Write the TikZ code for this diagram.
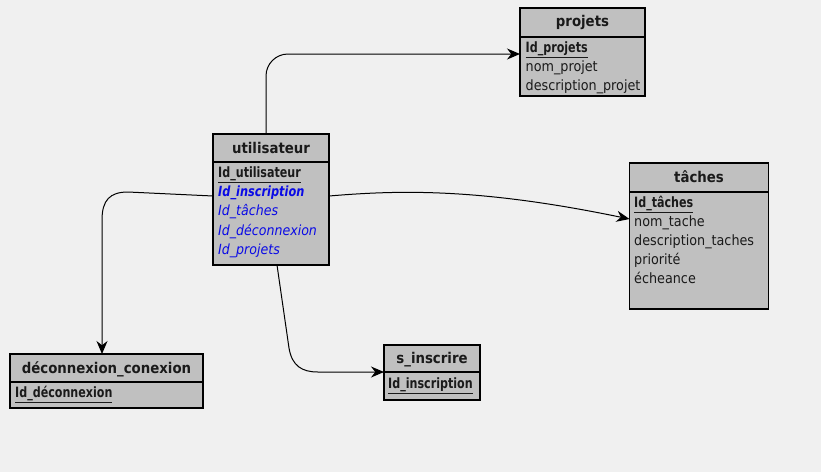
\documentclass[tikz,border=0pt]{standalone}
\usepackage{fontspec}
\setmainfont{DejaVu Sans Condensed}
\usetikzlibrary{arrows.meta,calc}
\definecolor{bg}{HTML}{F0F0F0}
\definecolor{boxfill}{HTML}{C0C0C0}
\definecolor{fkblue}{HTML}{0A0AE6}
\definecolor{txt}{HTML}{1A1A1A}
\newcommand{\pkey}[1]{\scalebox{0.87}[1]{\underline{#1}}}
\begin{document}
\begin{tikzpicture}[x=1pt,y=-1pt,
  tbl/.style={draw=black, fill=boxfill, line width=1.2pt, anchor=north west, inner sep=0pt, outer sep=0pt},
  sep/.style={line width=1.2pt},
  hdr/.style={font=\bfseries\fontsize{14.8}{17}\selectfont, anchor=center, inner sep=0pt, text=txt},
  fld/.style={font=\fontsize{14.2}{15}\selectfont, anchor=base west, inner sep=0pt, text=txt},
  pk/.style={fld, font=\bfseries\fontsize{14.2}{15}\selectfont},
  fk/.style={fld, text=fkblue, font=\itshape\fontsize{14}{15}\selectfont},
  conn/.style={line width=1pt, -{Stealth[length=13pt,width=11pt]}}
]
\fill[bg] (0,0) rectangle (821,472);
\useasboundingbox (0,0) rectangle (821,472);

% projets
\node[tbl, minimum width=125pt, minimum height=88pt] (proj) at (520,8) {};
\draw[sep] (520,37) -- (645,37);
\node[hdr] (projh) at (582.5,22) {projets};
\node[pk] (p1) at (525.5,52) {\pkey{Id\_projets}};
\node[fld] (p2) at (525.5,71.5) {nom\_projet};
\node[fld] (p3) at (525.5,90.5) {description\_projet};

% utilisateur
\node[tbl, minimum width=116pt, minimum height=131pt] (util) at (213,134) {};
\draw[sep] (213,162) -- (329,162);
\node[hdr] (utilh) at (271,148) {utilisateur};
\node[pk] (u1) at (218,177.5) {\pkey{Id\_utilisateur}};
\node[fk, font=\bfseries\itshape\fontsize{14}{15}\selectfont] (u2) at (218,196.5) {\scalebox{0.9}[1]{Id\_inscription}};
\node[fk] (u3) at (218,215.5) {Id\_tâches};
\node[fk] (u4) at (218,235) {Id\_déconnexion};
\node[fk] (u5) at (218,254) {Id\_projets};

% taches
\node[tbl, minimum width=139pt, minimum height=146pt] (tach) at (629.5,163) {};
\draw[sep] (629.5,192) -- (768.5,192);
\node[hdr] (tachh) at (699,176.5) {tâches};
\node[pk] (t1) at (634,207) {\pkey{Id\_tâches}};
\node[fld] (t2) at (634,226) {nom\_tache};
\node[fld] (t3) at (634,245) {description\_taches};
\node[fld] (t4) at (634,264) {priorité};
\node[fld] (t5) at (634,283) {écheance};

% deconnexion_conexion
\node[tbl, minimum width=193pt, minimum height=54pt] (deco) at (10,354) {};
\draw[sep] (10,382) -- (203,382);
\node[hdr] (decoh) at (106.5,369) {déconnexion\_conexion};
\node[pk] (d1) at (15,397) {\pkey{Id\_déconnexion}};

% s_inscrire
\node[tbl, minimum width=96pt, minimum height=55pt] (insc) at (384,345) {};
\draw[sep] (384,372) -- (480,372);
\node[hdr] (insch) at (432,359.5) {s\_inscrire};
\node[pk] (i1) at (388,388.5) {\pkey{Id\_inscription}};

% connectors
\draw[conn, rounded corners=22pt] ($(util.north west)+(53,0)$) |- ($(proj.north west)+(0,46)$);
\draw[conn] ($(util.north west)+(0,62)$) -- (128,192)
  .. controls (110,192) and (102,200) .. (102,220) -- ($(deco.north west)+(92,0)$);
\draw[conn] ($(util.north east)+(0,62)$) .. controls (400,190) and (480,188) .. ($(tach.north west)+(0,56)$);
\draw[conn] ($(util.south west)+(64,0)$) -- (289,348)
  .. controls (292,366) and (302,372) .. (318,372) -- ($(insc.north west)+(0,27)$);
\end{tikzpicture}
\end{document}
